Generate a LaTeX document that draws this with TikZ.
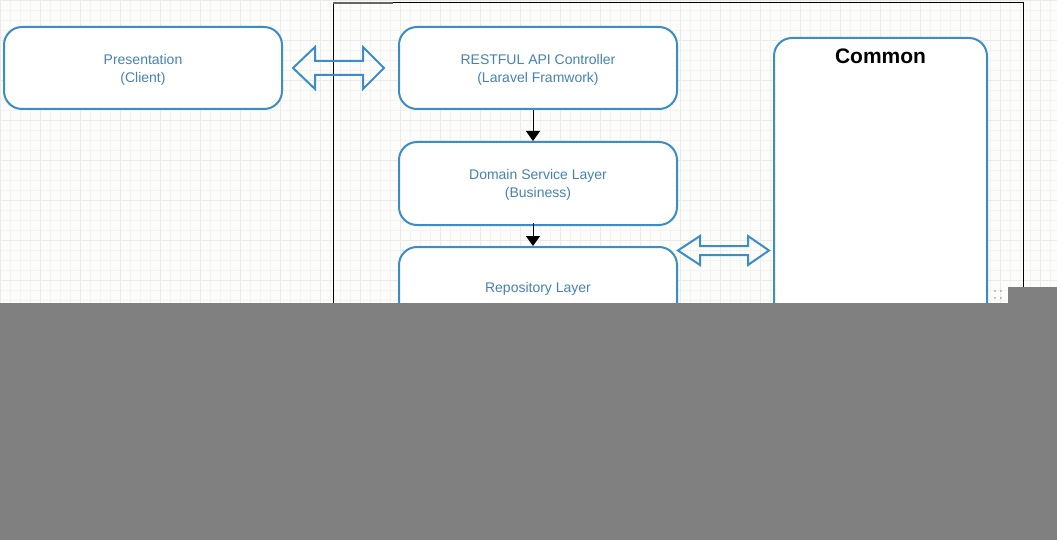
\documentclass[tikz,border=0pt]{standalone}
\usepackage{fontspec}
\setmainfont{Liberation Sans}
\usetikzlibrary{arrows.meta}
\definecolor{bgc}{HTML}{FCFCFA}
\definecolor{gridminor}{HTML}{F3F3F1}
\definecolor{gridmajor}{HTML}{EAEAE8}
\definecolor{boxblue}{HTML}{3C8DC5}
\definecolor{txtblue}{HTML}{4682B0}
\definecolor{maskgray}{HTML}{808080}
\tikzset{
  layerbox/.style={draw=boxblue, line width=2pt, fill=white, rounded corners=18pt,
    minimum width=278pt, minimum height=82pt, inner sep=0pt},
  layertext/.style={align=center, text=txtblue, inner sep=0pt,
    font=\fontsize{14}{18}\selectfont},
  fatarrow/.style={draw=boxblue, line width=2pt, miter limit=10},
  flowarrow/.style={draw=black, line width=1pt, -{Triangle[width=14pt,length=10pt]}},
}
\begin{document}
\begin{tikzpicture}[x=1pt,y=-1pt]
\useasboundingbox (0,0) rectangle (1057,540);
% background and grid
\fill[bgc] (0,0) rectangle (1057,540);
\foreach \i in {0,10,...,1050} {\draw[gridminor, line width=0.8pt] (\i,0) -- (\i,540);}
\foreach \j in {0,10,...,540} {\draw[gridminor, line width=0.8pt] (0,\j) -- (1057,\j);}
\foreach \i in {0,40,...,1050} {\draw[gridmajor, line width=0.8pt] (\i,0) -- (\i,540);}
\foreach \j in {0,40,...,540} {\draw[gridmajor, line width=0.8pt] (0,\j) -- (1057,\j);}
% container frame
\draw[black, line width=1pt] (333,3) rectangle (1023,420);
\draw[black!60, line width=2pt] (333,3) -- (393,3);
% boxes
\node[layerbox] (pres) at (143,68) {};
\node[layerbox] (rest) at (538,68) {};
\node[layerbox, minimum height=83pt] (dom) at (538,183.5) {};
\node[layerbox] (repo) at (538,288) {};
\node[layerbox, minimum width=213pt, minimum height=380pt, anchor=north] (common) at (880.5,37) {};
% texts
\node[layertext] (prest) at ([yshift=-1.5pt]pres.center) {Presentation\\(Client)};
\node[layertext] (restt) at ([yshift=-1.5pt]rest.center) {RESTFUL API Controller\\(Laravel Framwork)};
\node[layertext] (domt) at ([yshift=-1.5pt]dom.center) {Domain Service Layer\\(Business)};
\node[layertext] (repot) at ([yshift=-0.5pt]repo.center) {Repository Layer};
\node[font=\fontsize{21}{24}\selectfont\bfseries, text=black, inner sep=0pt] (ctitle) at ([yshift=-19.5pt]common.north) {Common};
% flow arrows
\draw[flowarrow] ([xshift=-5pt]rest.south) -- ([xshift=-5pt]dom.north);
\draw[flowarrow] ([xshift=-5pt,yshift=3pt]dom.south) -- ([xshift=-5pt]repo.north);
% double arrows
\coordinate (la) at (293,68);
\draw[fatarrow] (la) -- ++(22,-21) -- ++(0,14) -- ++(48,0) -- ++(0,-14) -- ++(21,21)
  -- ++(-21,21) -- ++(0,-14) -- ++(-48,0) -- ++(0,14) -- cycle;
\coordinate (ra) at (678,250.5);
\draw[fatarrow] (ra) -- ++(22,-14.5) -- ++(0,10) -- ++(48,0) -- ++(0,-10) -- ++(21,14.5)
  -- ++(-21,14.5) -- ++(0,-10) -- ++(-48,0) -- ++(0,10) -- cycle;
% resize handle dots
\foreach \hx/\hy in {995/291, 1001/291, 995/298, 1001/298}
  {\fill[black!45] (\hx,\hy) circle (0.9pt);}
% gray mask
\fill[maskgray] (1008,287) rectangle (1057,304);
\fill[maskgray] (0,303) rectangle (1057,540);
\end{tikzpicture}
\end{document}
